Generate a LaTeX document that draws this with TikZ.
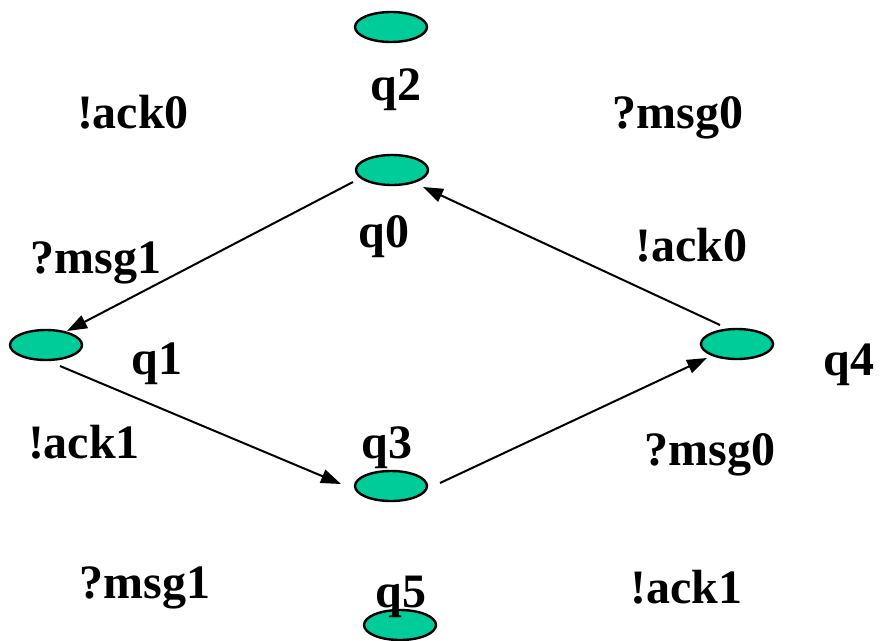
\documentclass[tikz,border=0pt]{standalone}
\usepackage{fontspec}
\setmainfont{Liberation Serif}
\usetikzlibrary{arrows.meta,calc,shapes.geometric}
\definecolor{statefill}{RGB}{0,204,153}
\tikzset{
  state/.style={ellipse, draw=black, line width=2.4pt, fill=statefill,
    minimum width=72pt, minimum height=30pt, inner sep=0pt},
  lbl/.style={anchor=base, inner sep=0pt,
    font=\fontsize{48}{52}\selectfont\bfseries},
  trans/.style={line width=2pt, -{Triangle[length=20pt,width=14pt]}}
}
\begin{document}
\begin{tikzpicture}[x=1pt, y=-1pt]
  \useasboundingbox (0,0) rectangle (880,640);

  % states
  \node[state] (q2) at (391,27) {};
  \node[state] (q0) at (392,170) {};
  \node[state] (q1) at (46,345) {};
  \node[state] (q4) at (737,344) {};
  \node[state] (q3) at (391,486) {};
  \node[state] (q5) at (400,625) {};

  % state names
  \node[lbl] (tq2) at (396,100) {q2};
  \node[lbl] (tq0) at (384,247) {q0};
  \node[lbl] (tq1) at (157,374) {q1};
  \node[lbl] (tq4) at (849,375) {q4};
  \node[lbl] (tq3) at (387,458) {q3};
  \node[lbl] (tq5) at (401,607) {q5};

  % actions
  \node[lbl] (a1) at (133,128) {!ack0};
  \node[lbl] (a2) at (678,128) {?msg0};
  \node[lbl] (a3) at (96,273) {?msg1};
  \node[lbl] (a4) at (691,261) {!ack0};
  \node[lbl] (a5) at (84,458) {!ack1};
  \node[lbl] (a6) at (710,465) {?msg0};
  \node[lbl] (a7) at (145,598) {?msg1};
  \node[lbl] (a8) at (686,603) {!ack1};

  % transitions
  \draw[trans] ($(q0)+(-39,12)$) -- ($(q1)+(21,-14)$);
  \draw[trans] ($(q1)+(14,21)$) -- ($(q3)+(-50,-2)$);
  \draw[trans] ($(q3)+(49,-3)$) -- ($(q4)+(-30,14)$);
  \draw[trans] ($(q4)+(-17,-19)$) -- ($(q0)+(31,17)$);
\end{tikzpicture}
\end{document}
